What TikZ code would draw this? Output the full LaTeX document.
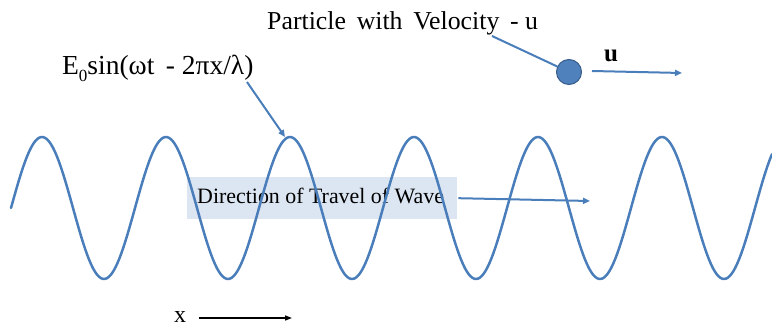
\documentclass[tikz,border=0pt]{standalone}
\usepackage{fontspec}
\setmainfont{Liberation Serif}
\usetikzlibrary{arrows.meta}
\definecolor{wblue}{HTML}{4A7EBB}
\definecolor{pfill}{HTML}{4F81BD}
\definecolor{pedge}{HTML}{385D8A}
\definecolor{boxfill}{HTML}{DCE6F2}
\tikzset{
  bluearrow/.style={draw=wblue, line width=2pt, -{Triangle[length=7pt,width=6pt]}},
  blueline/.style={draw=wblue, line width=2pt},
  lbl/.style={inner sep=0pt, anchor=base west, text=black},
}
\begin{document}
\begin{tikzpicture}[x=1pt,y=-1pt]
\useasboundingbox (0,0) rectangle (772,326);
% direction box (under the wave)
\node[fill=boxfill, minimum width=270pt, minimum height=42pt, inner sep=0pt, anchor=north west] (box) at (187,177) {};
\node[lbl, font=\fontsize{21.9}{25}\selectfont] (dir) at (197,204) {Direction of Travel of Wave};
% wave
\draw[wblue, line width=2.5pt, line cap=round, line join=round]
  plot[domain=11:772, samples=400] (\x, {208 - 71*sin(2.903226*(\x-11))});
\coordinate (peak) at (285,137);
% direction arrow
\coordinate (dirend) at (590,201);
\draw[bluearrow] (box.east) ++(1,0) coordinate (dirstart) -- (dirend);
% E0 label
\node[lbl, font=\fontsize{27.5}{30}\selectfont] (eq) at (62,75) {E\raisebox{-0.25em}{\fontsize{17}{19}\selectfont 0}sin(ωt \,- 2πx/λ)};
\draw[bluearrow] (247,82) coordinate (eqstart) -- (peak);
% particle
\node[lbl, font=\fontsize{25.8}{29}\selectfont] (ptxt) at (267,30) {Particle\, with\, Velocity\, - u};
\node[circle, fill=pfill, draw=pedge, line width=1pt, minimum size=25pt, inner sep=0pt] (part) at (569,72) {};
\draw[blueline] (492,36) coordinate (pstart) -- (part);
\coordinate (ustart) at (592,71);
\coordinate (uend) at (682,73);
\draw[bluearrow] (ustart) -- (uend);
\node[lbl, font=\fontsize{25}{28}\selectfont\bfseries] (ulbl) at (604,62) {u};
% x axis arrow
\node[lbl, font=\fontsize{24}{27}\selectfont] (xl) at (174,322) {x};
\coordinate (xs) at (199,318);
\coordinate (xe) at (292,318);
\draw[line width=1.5pt, -{Triangle[length=7pt,width=5pt]}] (xs) -- (xe);
\end{tikzpicture}
\end{document}
